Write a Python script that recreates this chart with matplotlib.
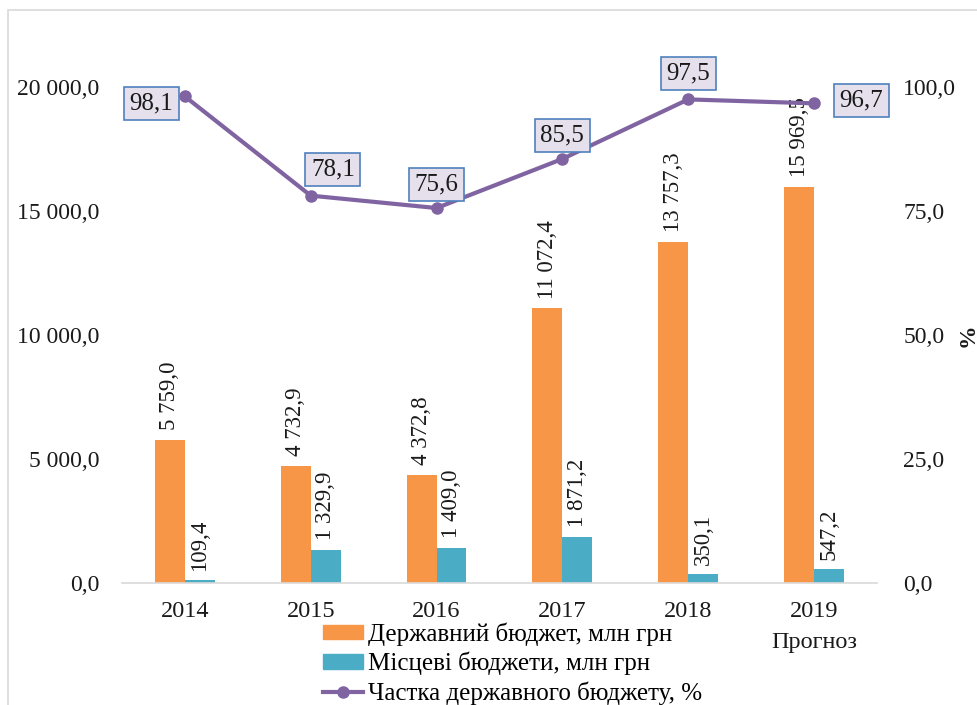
import matplotlib
matplotlib.use("Agg")
import matplotlib.pyplot as plt
from matplotlib.patches import Rectangle
from matplotlib.lines import Line2D
from matplotlib.patches import Patch
import numpy as np

plt.rcParams["font.family"] = ["Liberation Serif", "DejaVu Serif"]

# ── Data ────────────────────────────────────────────────────────────────────
years      = ["2014", "2015", "2016", "2017", "2018", "2019\nПрогноз"]
state_bud  = [5759.0, 4732.9, 4372.8, 11072.4, 13757.3, 15969.5]
local_bud  = [109.4, 1329.9, 1409.0, 1871.2, 350.1, 547.2]
state_pct  = [98.1, 78.1, 75.6, 85.5, 97.5, 96.7]
left_ticks  = [0, 5000, 10000, 15000, 20000]
right_ticks = [0, 25, 50, 75, 100]

ORANGE = "#F79646"
TEAL   = "#4BACC6"
PURPLE = "#8064A2"
TXT    = "#1a1a1a"


def fmt(v):
    return f"{v:,.1f}".replace(",", " ").replace(".", ",")


fig = plt.figure(figsize=(9.78, 7.05), dpi=100)
fig.patches.append(Rectangle((8 / 978, -0.05), 1.1, 1 - 10 / 705 + 0.05,
                             transform=fig.transFigure, fill=False,
                             edgecolor="#D9D9D9", linewidth=1.2))

ax = fig.add_axes([0.1247, 0.173, 0.772, 0.7036])
x = np.arange(len(years))
w = 0.238
ax.bar(x - w / 2, state_bud, w, color=ORANGE)
ax.bar(x + w / 2, local_bud, w, color=TEAL)

for xi, v in zip(x, state_bud):
    ax.annotate(fmt(v), (xi - w / 2, v), xytext=(0, 7), textcoords="offset points",
                rotation=90, ha="center", va="bottom", fontsize=16.5, color=TXT)
for xi, v in zip(x, local_bud):
    ax.annotate(fmt(v), (xi + w / 2, v), xytext=(0, 7), textcoords="offset points",
                rotation=90, ha="center", va="bottom", fontsize=16.5, color=TXT)

ax.set_xlim(-0.5, len(years) - 0.5)
ax.set_ylim(0, 20000)
ax.set_yticks(left_ticks)
ax.set_yticklabels([fmt(t) for t in left_ticks], fontsize=17)
ax.set_xticks(x)
ax.set_xticklabels(years, fontsize=17.5, linespacing=1.6)
ax.tick_params(length=0, pad=13, colors=TXT)
ax.tick_params(axis="y", pad=16)
for s in ["top", "right", "left"]:
    ax.spines[s].set_visible(False)
ax.spines["bottom"].set_color("#D9D9D9")
ax.spines["bottom"].set_linewidth(1.2)

ax2 = ax.twinx()
ax2.plot(x, state_pct, color=PURPLE, linewidth=3, marker="o", markersize=8,
         clip_on=False, zorder=5)
ax2.set_ylim(0, 100)
ax2.set_yticks(right_ticks)
ax2.set_yticklabels([fmt(t) for t in right_ticks], fontsize=17)
ax2.tick_params(length=0, pad=19, colors=TXT)
for s in ["top", "right", "left", "bottom"]:
    ax2.spines[s].set_visible(False)
fig.text(968 / 978, 1 - 335 / 705, "%", rotation=90, fontsize=17,
         fontweight="bold", ha="center", va="center", color=TXT)

# label placement (offsets in points)
offsets = [(-24, -5), (16, 19), (0, 17), (0, 17), (0, 19), (34, 2)]
box = dict(boxstyle="square,pad=0.22", facecolor="#E6E0EC", edgecolor="#4F81BD", linewidth=1.2)
for xi, v, (dx, dy) in zip(x, state_pct, offsets):
    ax2.annotate(fmt(v), (xi, v), xytext=(dx, dy), textcoords="offset points",
                 ha="center", va="center", fontsize=18, bbox=box, zorder=6,
                 annotation_clip=False, color=TXT)

handles = [Patch(color=ORANGE), Patch(color=TEAL),
           Line2D([], [], color=PURPLE, linewidth=3, marker="o", markersize=8)]
labels = ["Державний бюджет, млн грн", "Місцеві бюджети, млн грн",
          "Частка державного бюджету, %"]
fig.legend(handles, labels, loc="lower left", bbox_to_anchor=(312 / 978, -0.016),
           frameon=False, fontsize=18, handlelength=1.6, handleheight=0.5,
           handletextpad=0.2, labelspacing=0.25, borderaxespad=0.05)

fig.savefig("out.png", dpi=100)
